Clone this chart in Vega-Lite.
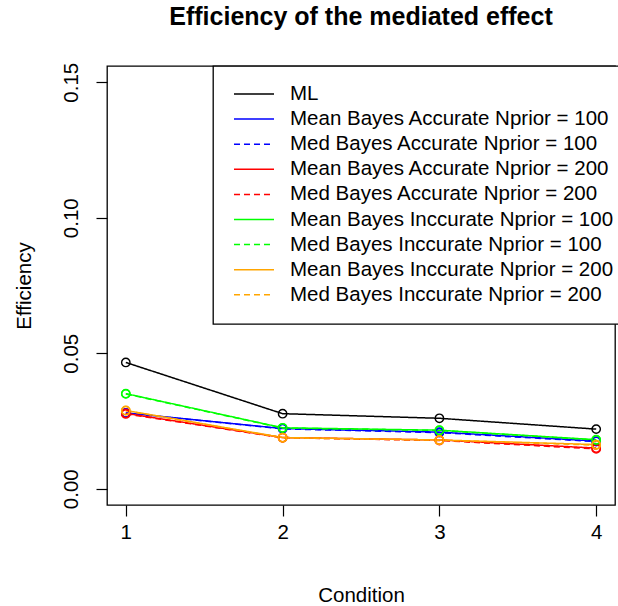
{
  "$schema": "https://vega.github.io/schema/vega-lite/v6.json",
  "autosize": "none",
  "width": 508,
  "height": 439,
  "padding": {"left": 107, "top": 66, "right": 3, "bottom": 101},
  "background": "white",
  "title": {
    "text": "Efficiency of the mediated effect",
    "font": "Liberation Sans",
    "fontSize": 25,
    "fontWeight": "bold",
    "color": "black",
    "anchor": "middle",
    "frame": "group",
    "baseline": "alphabetic",
    "offset": 12
  },
  "config": {
    "view": {"stroke": "black", "strokeWidth": 1.3},
    "font": "Liberation Sans",
    "axis": {
      "grid": false,
      "domain": false,
      "tickColor": "black",
      "tickWidth": 1.2,
      "tickSize": 11,
      "labelFont": "Liberation Sans",
      "labelFontSize": 20.5,
      "labelColor": "black",
      "titleFont": "Liberation Sans",
      "titleFontSize": 20.5,
      "titleFontWeight": "normal",
      "titleColor": "black"
    },
    "legend": {
      "orient": "none",
      "legendX": 106,
      "legendY": 0,
      "strokeColor": "black",
      "strokeWidth": 1.3,
      "fillColor": "white",
      "padding": 18,
      "symbolType": "stroke",
      "symbolSize": 1600,
      "symbolStrokeWidth": 1.5,
      "symbolOffset": 2,
      "labelOffset": 15,
      "labelFont": "Liberation Sans",
      "labelFontSize": 20.5,
      "labelColor": "black",
      "labelLimit": 500,
      "clipHeight": 20,
      "rowPadding": 4.1
    }
  },
  "data": {
    "values": [
      {"condition": 1, "series": "ML", "efficiency": 0.0466},
      {"condition": 2, "series": "ML", "efficiency": 0.0277},
      {"condition": 3, "series": "ML", "efficiency": 0.0260},
      {"condition": 4, "series": "ML", "efficiency": 0.0220},
      {"condition": 1, "series": "Mean Bayes Accurate Nprior = 100", "efficiency": 0.0280},
      {"condition": 2, "series": "Mean Bayes Accurate Nprior = 100", "efficiency": 0.0222},
      {"condition": 3, "series": "Mean Bayes Accurate Nprior = 100", "efficiency": 0.0209},
      {"condition": 4, "series": "Mean Bayes Accurate Nprior = 100", "efficiency": 0.0176},
      {"condition": 1, "series": "Med Bayes Accurate Nprior = 100", "efficiency": 0.0279},
      {"condition": 2, "series": "Med Bayes Accurate Nprior = 100", "efficiency": 0.0221},
      {"condition": 3, "series": "Med Bayes Accurate Nprior = 100", "efficiency": 0.0207},
      {"condition": 4, "series": "Med Bayes Accurate Nprior = 100", "efficiency": 0.0174},
      {"condition": 1, "series": "Mean Bayes Accurate Nprior = 200", "efficiency": 0.0278},
      {"condition": 2, "series": "Mean Bayes Accurate Nprior = 200", "efficiency": 0.0189},
      {"condition": 3, "series": "Mean Bayes Accurate Nprior = 200", "efficiency": 0.0180},
      {"condition": 4, "series": "Mean Bayes Accurate Nprior = 200", "efficiency": 0.0150},
      {"condition": 1, "series": "Med Bayes Accurate Nprior = 200", "efficiency": 0.0276},
      {"condition": 2, "series": "Med Bayes Accurate Nprior = 200", "efficiency": 0.0188},
      {"condition": 3, "series": "Med Bayes Accurate Nprior = 200", "efficiency": 0.0178},
      {"condition": 4, "series": "Med Bayes Accurate Nprior = 200", "efficiency": 0.0147},
      {"condition": 1, "series": "Mean Bayes Inccurate Nprior = 100", "efficiency": 0.0351},
      {"condition": 2, "series": "Mean Bayes Inccurate Nprior = 100", "efficiency": 0.0225},
      {"condition": 3, "series": "Mean Bayes Inccurate Nprior = 100", "efficiency": 0.0216},
      {"condition": 4, "series": "Mean Bayes Inccurate Nprior = 100", "efficiency": 0.0181},
      {"condition": 1, "series": "Med Bayes Inccurate Nprior = 100", "efficiency": 0.0350},
      {"condition": 2, "series": "Med Bayes Inccurate Nprior = 100", "efficiency": 0.0224},
      {"condition": 3, "series": "Med Bayes Inccurate Nprior = 100", "efficiency": 0.0215},
      {"condition": 4, "series": "Med Bayes Inccurate Nprior = 100", "efficiency": 0.0180},
      {"condition": 1, "series": "Mean Bayes Inccurate Nprior = 200", "efficiency": 0.0289},
      {"condition": 2, "series": "Mean Bayes Inccurate Nprior = 200", "efficiency": 0.0189},
      {"condition": 3, "series": "Mean Bayes Inccurate Nprior = 200", "efficiency": 0.0180},
      {"condition": 4, "series": "Mean Bayes Inccurate Nprior = 200", "efficiency": 0.0163},
      {"condition": 1, "series": "Med Bayes Inccurate Nprior = 200", "efficiency": 0.0288},
      {"condition": 2, "series": "Med Bayes Inccurate Nprior = 200", "efficiency": 0.0188},
      {"condition": 3, "series": "Med Bayes Inccurate Nprior = 200", "efficiency": 0.0179},
      {"condition": 4, "series": "Med Bayes Inccurate Nprior = 200", "efficiency": 0.0161}
    ]
  },
  "encoding": {
    "x": {
      "field": "condition",
      "type": "quantitative",
      "scale": {"domain": [0.88, 4.12], "nice": false, "zero": false},
      "axis": {
        "title": "Condition",
        "values": [1, 2, 3, 4],
        "format": "d",
        "labelPadding": 6,
        "labelBaseline": "top",
        "titleX": 254,
        "titleY": 96,
        "titleAlign": "center",
        "titleBaseline": "alphabetic"
      }
    },
    "y": {
      "field": "efficiency",
      "type": "quantitative",
      "scale": {"domain": [-0.006, 0.156], "nice": false, "zero": false},
      "axis": {
        "title": "Efficiency",
        "values": [0, 0.05, 0.1, 0.15],
        "format": ".2f",
        "labelAngle": -90,
        "labelAlign": "center",
        "labelBaseline": "alphabetic",
        "labelPadding": 19,
        "titleAngle": -90,
        "titleX": -77,
        "titleY": 219.5,
        "titleAlign": "center",
        "titleBaseline": "alphabetic"
      }
    },
    "color": {
      "field": "series",
      "type": "nominal",
      "title": null,
      "scale": {
        "domain": [
          "ML",
          "Mean Bayes Accurate Nprior = 100",
          "Med Bayes Accurate Nprior = 100",
          "Mean Bayes Accurate Nprior = 200",
          "Med Bayes Accurate Nprior = 200",
          "Mean Bayes Inccurate Nprior = 100",
          "Med Bayes Inccurate Nprior = 100",
          "Mean Bayes Inccurate Nprior = 200",
          "Med Bayes Inccurate Nprior = 200"
        ],
        "range": ["#000000", "#0000FF", "#0000FF", "#FF0000", "#FF0000", "#00FF00", "#00FF00", "#FFA500", "#FFA500"]
      }
    }
  },
  "layer": [
    {
      "mark": {"type": "line", "strokeWidth": 1.5},
      "encoding": {
        "strokeDash": {
          "field": "series",
          "type": "nominal",
          "title": null,
          "scale": {
            "domain": [
              "ML",
              "Mean Bayes Accurate Nprior = 100",
              "Med Bayes Accurate Nprior = 100",
              "Mean Bayes Accurate Nprior = 200",
              "Med Bayes Accurate Nprior = 200",
              "Mean Bayes Inccurate Nprior = 100",
              "Med Bayes Inccurate Nprior = 100",
              "Mean Bayes Inccurate Nprior = 200",
              "Med Bayes Inccurate Nprior = 200"
            ],
            "range": [[1, 0], [1, 0], [6, 4], [1, 0], [6, 4], [1, 0], [6, 4], [1, 0], [6, 4]]
          }
        }
      }
    },
    {
      "mark": {"type": "point", "shape": "circle", "filled": false, "size": 70, "strokeWidth": 1.4, "opacity": 1}
    }
  ]
}
